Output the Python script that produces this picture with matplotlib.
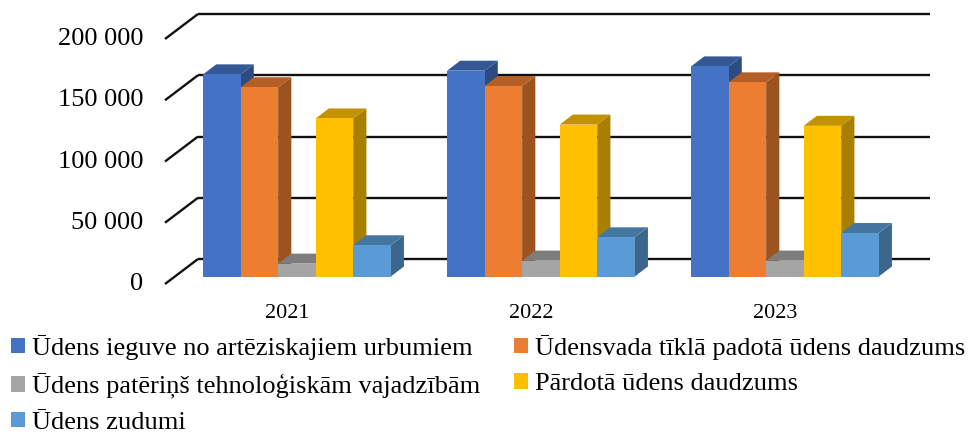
import matplotlib
matplotlib.use("Agg")
import matplotlib.pyplot as plt
from matplotlib.patches import Polygon, Patch
import numpy as np

plt.rcParams['font.family'] = ['Liberation Serif', 'DejaVu Serif']

categories = ["2021", "2022", "2023"]
series_names = [
    "Ūdens ieguve no artēziskajiem urbumiem",
    "Ūdensvada tīklā padotā ūdens daudzums",
    "Ūdens patēriņš tehnoloģiskām vajadzībām",
    "Pārdotā ūdens daudzums",
    "Ūdens zudumi",
]
ieguve = [165000, 168000, 171500]
padota = [154500, 155500, 158500]
paterins = [10500, 13000, 13000]
pardota = [129000, 124000, 123000]
zudumi = [25500, 32000, 35500]
series_values = [ieguve, padota, paterins, pardota, zudumi]
yticks = [0, 50000, 100000, 150000, 200000]
ytick_labels = ["0", "50 000", "100 000", "150 000", "200 000"]

colors = ["#4472C4", "#ED7D31", "#A5A5A5", "#FFC000", "#5B9BD5"]

def shade(c, f):
    r, g, b = matplotlib.colors.to_rgb(c)
    return (r * f, g * f, b * f)

W, H = 969, 434
fig = plt.figure(figsize=(W / 100, H / 100), dpi=100)
# axes in pixel geometry
ax_left, ax_right = 165, 930
ax_bottom, ax_top = H - 284, H - 14
ax = fig.add_axes([ax_left / W, ax_bottom / H, (ax_right - ax_left) / W, (ax_top - ax_bottom) / H])
px_per_cat = 244.0
val_per_px = 200000 / 245.0
DX = 33 / px_per_cat        # full depth in category units
DY = 25 * val_per_px        # full depth in value units
xlim = (-0.5, -0.5 + (ax_right - ax_left) / px_per_cat)
ylim = (0, (ax_top - ax_bottom) * val_per_px)
ax.set_xlim(*xlim)
ax.set_ylim(*ylim)
ax.axis("off")

x0, x1 = -0.5, len(categories) - 0.5
# gridlines: back wall + left wall diagonal
for v, lab in zip(yticks, ytick_labels):
    ax.plot([x0 + DX, x1 + DX], [v + DY, v + DY], color="#111111", lw=1.7,
            solid_capstyle="butt", clip_on=False, zorder=1)
    ax.plot([x0, x0 + DX], [v, v + DY], color="#111111", lw=1.7,
            solid_capstyle="butt", clip_on=False, zorder=1)
    ax.text(x0 - 22 / px_per_cat, v, lab, ha="right",
            va="center", fontsize=19, color="black")

n = len(series_values)
gap = 1.5
bw = 1.0 / (n + gap)
d0, d1 = 0.3, 0.7
z = 2
for ci, cat in enumerate(categories):
    start = ci - n * bw / 2
    for si in range(n):
        v = series_values[si][ci]
        xl = start + si * bw + d0 * DX
        xr = xl + bw
        b = d0 * DY
        t = b + v
        ddx = (d1 - d0) * DX
        ddy = (d1 - d0) * DY
        side = Polygon([(xr, b), (xr + ddx, b + ddy), (xr + ddx, t + ddy), (xr, t)],
                       closed=True, facecolor=shade(colors[si], 0.66), edgecolor="none", zorder=z)
        top = Polygon([(xl, t), (xr, t), (xr + ddx, t + ddy), (xl + ddx, t + ddy)],
                      closed=True, facecolor=shade(colors[si], 0.76), edgecolor="none", zorder=z)
        ax.add_patch(side)
        ax.add_patch(top)
        ax.bar(xl, v, width=bw, bottom=b, align="edge", color=colors[si],
               edgecolor="none", zorder=z + 0.5)
        z += 1
    ax.text(ci, -29 * val_per_px, cat, ha="center", va="center", fontsize=16)

order = [0, 2, 4, 1, 3]
handles = [Patch(facecolor=colors[i], edgecolor="none") for i in order]
labels = [series_names[i] for i in order]
fig.legend(handles, labels, ncol=2, loc="upper left", bbox_to_anchor=(11 / W, 1 - 335 / H),
           frameon=False, fontsize=19, handlelength=0.53, handleheight=0.53,
           handletextpad=0.25, columnspacing=1.3, labelspacing=0.5, borderpad=0,
           borderaxespad=0)

fig.savefig("out.png", dpi=100)
